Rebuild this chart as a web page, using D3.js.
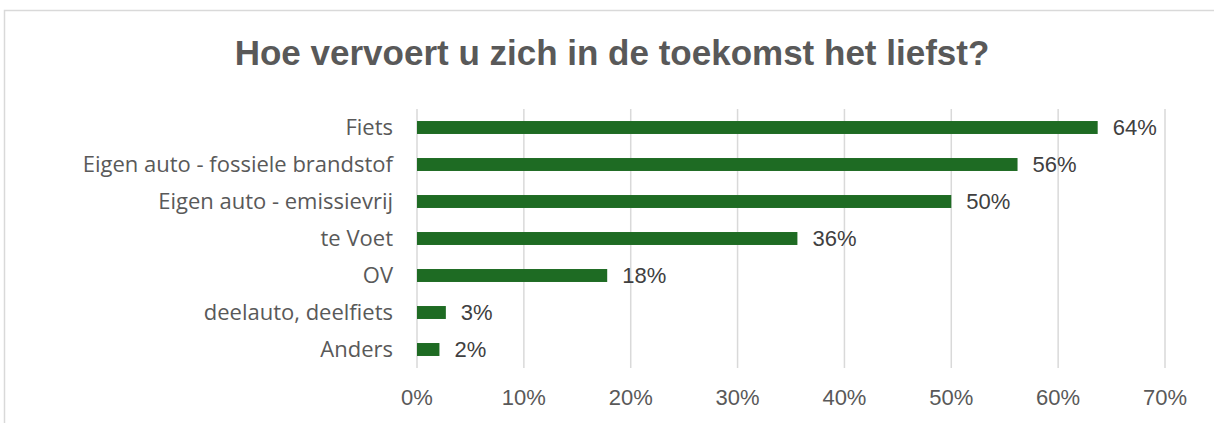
<!DOCTYPE html>
<html>
<head>
<meta charset="utf-8">
<script src="https://cdn.jsdelivr.net/npm/d3@7"></script>
<style>
  body { margin: 0; background: #fff; }
  svg { display: block; }
</style>
</head>
<body>
<div id="chart"></div>
<script>
// Data
const categories = ["Fiets", "Eigen auto - fossiele brandstof", "Eigen auto - emissievrij", "te Voet", "OV", "deelauto, deelfiets", "Anders"];
const values = [0.637, 0.562, 0.500, 0.356, 0.178, 0.027, 0.021];
const xTicks = [0, 0.1, 0.2, 0.3, 0.4, 0.5, 0.6, 0.7];
const title = "Hoe vervoert u zich in de toekomst het liefst?";

const W = 1214, H = 423;
const margin = { top: 109, right: 49, bottom: 55, left: 417 };
const width = W - margin.left - margin.right;
const height = H - margin.top - margin.bottom;

const svg = d3.select("#chart")
    .append("svg")
    .attr("width", W)
    .attr("height", H);

// chart area border
svg.append("rect")
    .attr("x", 4.5)
    .attr("y", 10.5)
    .attr("width", 1240)
    .attr("height", 500)
    .attr("fill", "none")
    .attr("stroke", "#d9d9d9")
    .attr("stroke-width", 1.5);

svg.append("text")
    .attr("x", 612)
    .attr("y", 65)
    .attr("text-anchor", "middle")
    .attr("font-family", "Liberation Sans, Arial, sans-serif")
    .attr("font-weight", "bold")
    .attr("font-size", "35px")
    .attr("fill", "#595959")
    .text(title);

const g = svg.append("g")
    .attr("transform", `translate(${margin.left},${margin.top})`);

const x = d3.scaleLinear()
    .domain([0, 0.7])
    .range([0, width]);

const y = d3.scaleBand()
    .domain(categories)
    .range([0, height])
    .paddingInner(0.65)
    .paddingOuter(0.325);

// gridlines
g.append("g")
    .selectAll("line")
    .data(xTicks)
    .join("line")
    .attr("x1", d => x(d))
    .attr("x2", d => x(d))
    .attr("y1", 0)
    .attr("y2", height)
    .attr("stroke", "#d9d9d9")
    .attr("stroke-width", 1.5);

// x tick labels
g.append("g")
    .selectAll("text")
    .data(xTicks)
    .join("text")
    .attr("x", d => x(d))
    .attr("y", height + 37)
    .attr("text-anchor", "middle")
    .attr("font-family", "Liberation Sans, Arial, sans-serif")
    .attr("font-size", "22px")
    .attr("fill", "#595959")
    .text(d3.format(".0%"));

// bars
g.append("g")
    .selectAll("rect")
    .data(values)
    .join("rect")
    .attr("x", x(0))
    .attr("y", (d, i) => y(categories[i]))
    .attr("width", d => x(d) - x(0))
    .attr("height", y.bandwidth())
    .attr("fill", "#1e6b23");

// data labels
g.append("g")
    .selectAll("text")
    .data(values)
    .join("text")
    .attr("x", d => x(d) + 15)
    .attr("y", (d, i) => y(categories[i]) + y.bandwidth() / 2)
    .attr("dy", "0.36em")
    .attr("font-family", "Liberation Sans, Arial, sans-serif")
    .attr("font-size", "22px")
    .attr("fill", "#404040")
    .text(d3.format(".0%"));

// category labels
g.append("g")
    .selectAll("text")
    .data(categories)
    .join("text")
    .attr("x", -24)
    .attr("y", d => y(d) + y.bandwidth() / 2)
    .attr("dy", "0.36em")
    .attr("text-anchor", "end")
    .attr("font-family", "Open Sans, sans-serif")
    .attr("font-size", "22px")
    .attr("fill", "#595959")
    .text(d => d);
</script>
</body>
</html>
